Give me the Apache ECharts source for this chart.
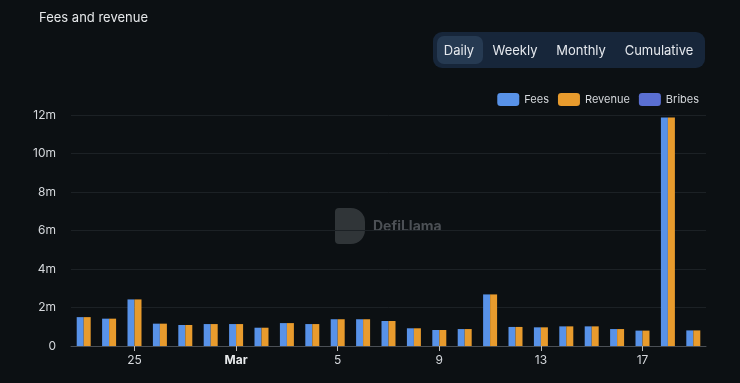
<!DOCTYPE html>
<html><head><meta charset="utf-8">
<script src="https://cdn.jsdelivr.net/npm/echarts@6/dist/echarts.min.js"></script>
<style>html,body{margin:0;padding:0;background:#0c1013;}#c{width:740px;height:383px;}</style>
</head><body><div id="c"></div>
<script>
const categories = ['23','24','25','26','27','28','Mar','2','3','4','5','6','7','8','9','10','11','12','13','14','15','16','17','18','19'];
const fees =    [1.50,1.42,2.42,1.16,1.09,1.14,1.14,0.95,1.19,1.14,1.39,1.39,1.30,0.92,0.83,0.88,2.68,0.99,0.97,1.02,1.02,0.88,0.80,11.87,0.81].map(v=>v*1e6);
const revenue = [1.50,1.42,2.42,1.16,1.09,1.14,1.14,0.95,1.19,1.14,1.39,1.39,1.30,0.92,0.83,0.88,2.68,0.99,0.97,1.02,1.02,0.88,0.80,11.87,0.81].map(v=>v*1e6);
const bribes =  [];
const yTicks = ['0','2m','4m','6m','8m','10m','12m'];
const buttons = ['Daily','Weekly','Monthly','Cumulative'];

const chart = echarts.init(document.getElementById('c'));
const F = 'Inter, "Noto Sans", sans-serif';
const showIdx = (i) => (i - 2) % 4 === 0;
const btnText = (x, t) => ({type: 'text', x: x, y: 51, style: {text: t, fill: '#e6e9ee', fontSize: 13, fontFamily: F, align: 'center', verticalAlign: 'middle'}, z: 3});
chart.setOption({
  backgroundColor: '#0c1013',
  animation: false,
  textStyle: {fontFamily: F},
  title: {text: 'Fees and revenue', left: 34, top: 7, textStyle: {color: '#e6e8ea', fontSize: 13, fontWeight: 'normal', fontFamily: F}},
  legend: {
    right: 36, top: 88, itemWidth: 22, itemHeight: 13, itemGap: 9,
    icon: 'roundRect',
    textStyle: {color: '#d5d8dc', fontSize: 11, fontFamily: F},
    data: ['Fees','Revenue','Bribes']
  },
  grid: {left: 71, right: 34, top: 115, bottom: 37},
  xAxis: {
    type: 'category', data: categories,
    axisLine: {lineStyle: {color: '#4a4f55'}},
    axisTick: {show: true, alignWithLabel: true, interval: showIdx, length: 5, lineStyle: {color: '#bbbbbb'}},
    axisLabel: {
      interval: showIdx, color: '#d5d8dc', fontSize: 12, margin: 8,
      formatter: v => v === 'Mar' ? '{b|Mar}' : v,
      rich: {b: {fontWeight: 'bold', color: '#e8eaec', fontSize: 12}}
    }
  },
  yAxis: {
    type: 'value', min: 0, max: 12e6, interval: 2e6,
    axisLabel: {color: '#d5d8dc', fontSize: 12, margin: 15, formatter: (v) => yTicks[Math.round(v/2e6)]},
    splitLine: {lineStyle: {color: '#1c2125'}},
    axisLine: {show: false}, axisTick: {show: false}
  },
  series: [
    {name: 'Fees', type: 'bar', data: fees, barWidth: 7, barGap: '0%', itemStyle: {color: '#5892e8'}},
    {name: 'Revenue', type: 'bar', stack: 'rb', data: revenue, barWidth: 7, barGap: '0%', itemStyle: {color: '#e89b2d'}},
    {name: 'Bribes', type: 'bar', stack: 'rb', data: bribes, barWidth: 7, barGap: '0%', itemStyle: {color: '#5a6fd2'}}
  ],
  graphic: [
    {type: 'rect', shape: {x: 433, y: 32, width: 272, height: 36, r: 9}, style: {fill: '#17263a'}, z: 1},
    {type: 'rect', shape: {x: 437, y: 36, width: 46, height: 28, r: 7}, style: {fill: '#263a52'}, z: 2},
    btnText(459, buttons[0]), btnText(515, buttons[1]), btnText(581, buttons[2]), btnText(659, buttons[3]),
    {type: 'rect', shape: {x: 335, y: 208, width: 30, height: 36, r: [4, 14, 14, 4]}, style: {fill: '#3a3e42', opacity: 0.8}, z: 0},
    {type: 'text', x: 373, y: 227, style: {text: 'DefiLlama', fill: '#4c5055', fontSize: 14, fontWeight: 'bold', fontFamily: F, verticalAlign: 'middle'}, z: 0}
  ]
});
</script></body></html>
